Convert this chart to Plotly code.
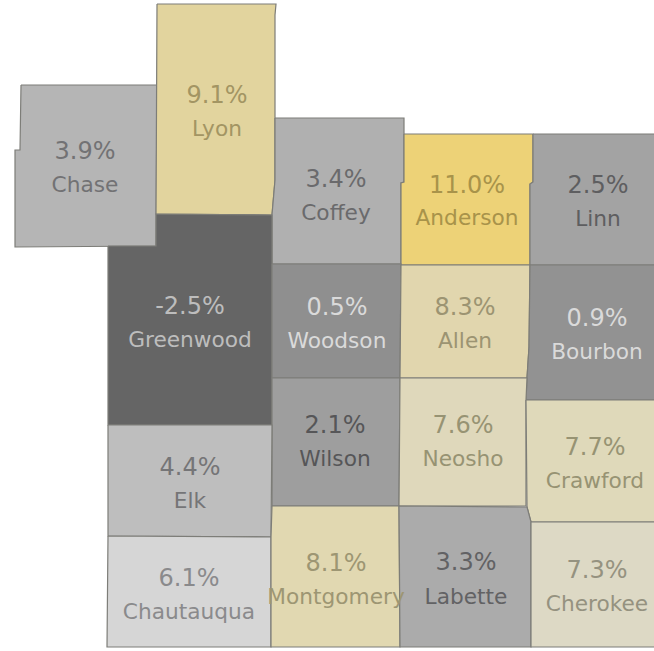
import plotly.graph_objects as go

# Data
counties = ["Chase", "Lyon", "Coffey", "Anderson", "Linn", "Greenwood", "Woodson", "Allen", "Bourbon",
            "Wilson", "Neosho", "Crawford", "Elk", "Chautauqua", "Montgomery", "Labette", "Cherokee"]
values = [3.9, 9.1, 3.4, 11.0, 2.5, -2.5, 0.5, 8.3, 0.9, 2.1, 7.6, 7.7, 4.4, 6.1, 8.1, 3.3, 7.3]

# County outlines
outlines = {
    "Chase": [(21, 85), (157, 85), (156, 246), (15, 247), (15, 150), (20, 150)],
    "Lyon": [(157, 4), (276, 4), (275, 15), (275, 180), (272, 215), (156, 214)],
    "Coffey": [(275, 118), (404, 118), (404, 182), (401, 183), (401, 264), (272, 264), (272, 215), (275, 180)],
    "Anderson": [(404, 134), (533, 134), (533, 182), (530, 184), (530, 265), (401, 265), (401, 183), (404, 182)],
    "Linn": [(533, 134), (660, 134), (660, 265), (530, 265), (530, 184), (533, 182)],
    "Greenwood": [(108, 246), (156, 246), (156, 214), (272, 215), (272, 425), (108, 425)],
    "Woodson": [(272, 264), (401, 264), (400, 378), (272, 378)],
    "Allen": [(401, 265), (530, 265), (529, 347), (527, 378), (400, 378)],
    "Bourbon": [(530, 265), (660, 265), (660, 400), (526, 400), (527, 378), (529, 347)],
    "Wilson": [(272, 378), (400, 378), (399, 506), (272, 506)],
    "Neosho": [(400, 378), (527, 378), (526, 400), (526, 506), (399, 506)],
    "Crawford": [(526, 400), (660, 400), (660, 522), (531, 522), (527, 507)],
    "Elk": [(108, 425), (272, 425), (271, 537), (108, 536)],
    "Chautauqua": [(108, 536), (271, 537), (271, 647), (107, 647)],
    "Montgomery": [(272, 506), (399, 506), (400, 647), (271, 647), (271, 537)],
    "Labette": [(399, 506), (527, 507), (531, 522), (531, 647), (400, 647)],
    "Cherokee": [(531, 522), (660, 522), (660, 647), (531, 647)],
}

fills = ["#B5B5B5", "#E2D49E", "#B0B0B0", "#EDD277", "#A3A3A3", "#656565", "#8F8F8F", "#E1D6AE", "#929292",
         "#9E9E9E", "#DFD8BB", "#DFD9BA", "#BEBEBE", "#D6D6D6", "#E1D8B1", "#ABABAB", "#DDD9C5"]
inks = ["#727274", "#A39563", "#6A6A6C", "#A8934A", "#5E5E60", "#BDBDBD", "#DADADA", "#9C9472", "#DADADA",
        "#565658", "#979373", "#979373", "#757577", "#8A8A8C", "#9D9673", "#626264", "#959280"]
label_x = [85, 217, 336, 467, 598, 190, 337, 465, 597, 335, 463, 595, 190, 189, 336, 466, 597]
pct_y = [152.5, 96.5, 180.5, 186.5, 186.5, 307.5, 308.5, 308.5, 319.5, 426.5, 426.5, 448.5, 468.5, 579.5, 564.5, 563.5, 571.5]
name_y = [186.5, 130.5, 214.5, 219.5, 220.5, 341.5, 342.5, 342.5, 353.5, 460.5, 460.5, 482.5, 502.5, 613.5, 598.5, 598.5, 605.5]

FONT = "DejaVu Sans"
fig = go.Figure()
for name, fill in zip(counties, fills):
    pts = outlines[name] + [outlines[name][0]]
    fig.add_trace(go.Scatter(x=[p[0] for p in pts], y=[p[1] for p in pts], mode="lines", fill="toself",
                             fillcolor=fill, line=dict(color="#7D7D78", width=1.2),
                             hoverinfo="text", text=name, showlegend=False))

fig.add_trace(go.Scatter(x=label_x, y=pct_y, mode="text", text=[f"{v:.1f}%" for v in values],
                         textposition="middle center", showlegend=False, hoverinfo="skip",
                         textfont=dict(family=FONT, size=24, color=inks)))
fig.add_trace(go.Scatter(x=label_x, y=name_y, mode="text", text=counties,
                         textposition="middle center", showlegend=False, hoverinfo="skip",
                         textfont=dict(family=FONT, size=21.7, color=inks)))

fig.update_layout(width=654, height=651, margin=dict(l=0, r=0, t=0, b=0), autosize=False,
                  paper_bgcolor="white", plot_bgcolor="white",
                  xaxis=dict(range=[0, 654], visible=False, fixedrange=True),
                  yaxis=dict(range=[651, 0], visible=False, fixedrange=True))
fig.write_html("out.html", config={"displayModeBar": False}, default_width="654px", default_height="651px",
               post_script="document.body.style.margin='0';document.body.style.overflow='hidden';")
